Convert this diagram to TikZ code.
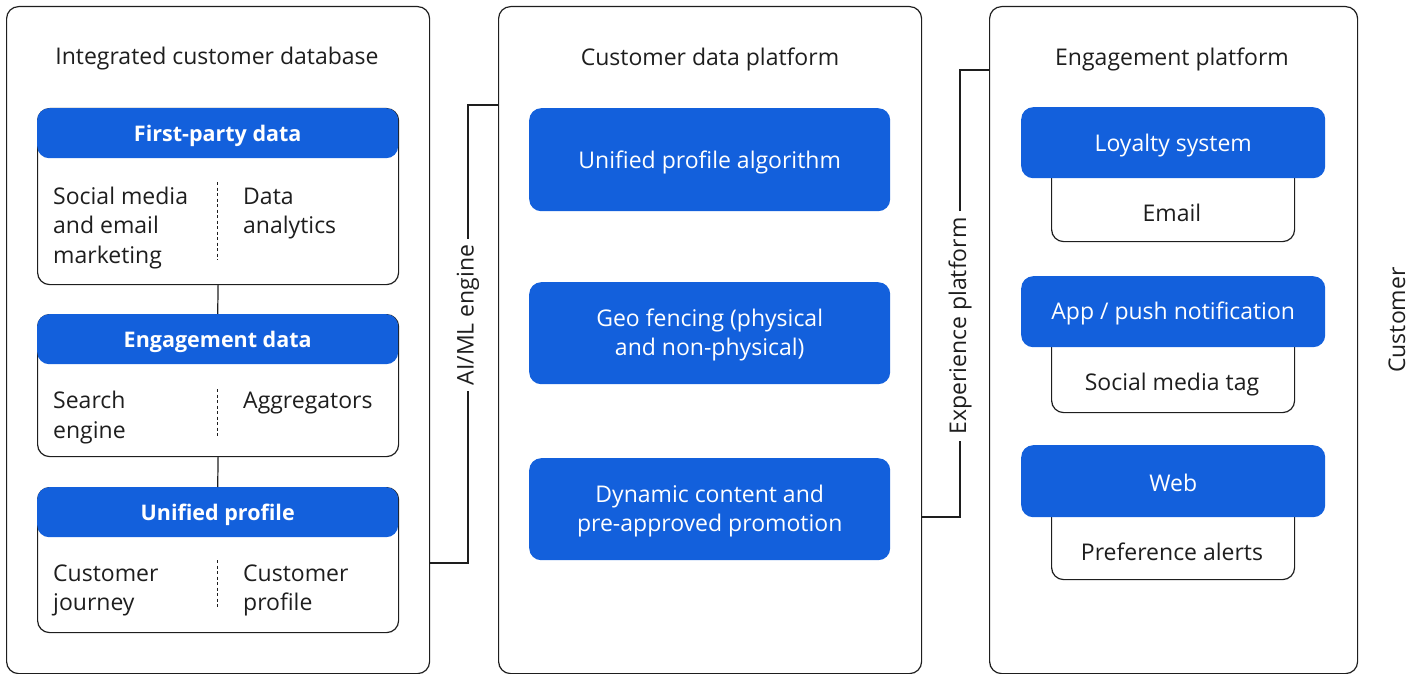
\documentclass[tikz,border=0pt]{standalone}
\usepackage{fontspec}
\setmainfont{Open Sans}
\definecolor{brand}{RGB}{19,96,220}
\definecolor{ink}{RGB}{30,30,30}
\begin{document}
\begin{tikzpicture}[x=1pt,y=-1pt,
  panel/.style={draw=ink,line width=1.2pt,rounded corners=12pt,anchor=north west,inner sep=0pt},
  cardbody/.style={draw=ink,line width=1.2pt,rounded corners=12pt,anchor=north west,inner sep=0pt},
  bluebox/.style={fill=brand,rounded corners=12pt,anchor=north west,inner sep=0pt},
  bluetext/.style={text=white,align=center,inner sep=0pt,font=\fontsize{23}{29.5}\selectfont},
  hdrtext/.style={text=white,inner sep=0pt,font=\fontsize{21.5}{25}\selectfont\bfseries},
  title/.style={font=\fontsize{23}{25}\selectfont,text=ink},
  body/.style={font=\fontsize{23}{29.5}\selectfont,text=ink,align=left,anchor=west,inner sep=0pt},
  sub/.style={font=\fontsize{23}{25}\selectfont,text=ink},
  divider/.style={draw=ink,line width=1pt,dash pattern=on 3pt off 2.5pt},
  link/.style={draw=ink,line width=1.2pt},
  vlabel/.style={font=\fontsize{23}{25}\selectfont,text=ink,rotate=90,inner sep=6pt}
]
\useasboundingbox (0,0) rectangle (1419,674);
% panels
\node[panel,minimum width=423pt,minimum height=667pt] (pL) at (6,6) {};
\node[panel,minimum width=423pt,minimum height=667pt] (pM) at (498,6) {};
\node[panel,minimum width=368pt,minimum height=667pt] (pR) at (989,6) {};
\node[title] (tL) at (217,59) {Integrated customer database};
\node[title] (tM) at (710,59) {Customer data platform};
\node[title] (tR) at (1172,59) {Engagement platform};

% left cards
\node[cardbody,minimum width=361pt,minimum height=176pt] (c1) at (37,108) {};
\node[bluebox,minimum width=361pt,minimum height=50pt] (h1) at (37,108) {};
\node[hdrtext] (h1t) at ([yshift=-3pt]h1.center) {First-party data};
\node[body] (b1a) at (53,228) {Social media\\and email\\marketing};
\node[body] (b1b) at (243,213.5) {Data\\analytics};
\draw[divider] (217,182) -- (217,260);

\node[cardbody,minimum width=361pt,minimum height=142pt] (c2) at (37,314) {};
\node[bluebox,minimum width=361pt,minimum height=50pt] (h2) at (37,314) {};
\node[hdrtext] (h2t) at ([yshift=-3pt]h2.center) {Engagement data};
\node[body] (b2a) at (53,417.5) {Search\\engine};
\node[body] (b2b) at (243,403) {Aggregators};
\draw[divider] (217,389) -- (217,437);

\node[cardbody,minimum width=361pt,minimum height=145pt] (c3) at (37,487) {};
\node[bluebox,minimum width=361pt,minimum height=50pt] (h3) at (37,487) {};
\node[hdrtext] (h3t) at ([yshift=-3pt]h3.center) {Unified profile};
\node[body] (b3a) at (53,590.5) {Customer\\journey};
\node[body] (b3b) at (243,590.5) {Customer\\profile};
\draw[divider] (217,560) -- (217,608);

\draw[link] (c1.south) -- (h2.north);
\draw[link] (c2.south) -- (h3.north);

% middle boxes
\node[bluebox,minimum width=361pt,minimum height=103pt] (m1) at (529,108) {};
\node[bluetext] (m1t) at ([yshift=-3pt]m1.center) {Unified profile algorithm};
\node[bluebox,minimum width=361pt,minimum height=102pt] (m2) at (529,282) {};
\node[bluetext] (m2t) at ([yshift=-2pt]m2.center) {Geo fencing (physical\\and non-physical)};
\node[bluebox,minimum width=361pt,minimum height=102pt] (m3) at (529,458) {};
\node[bluetext] (m3t) at ([yshift=-2pt]m3.center) {Dynamic content and\\pre-approved promotion};

% right boxes
\node[cardbody,minimum width=243pt,minimum height=83pt] (s1) at (1051,158) {};
\node[bluebox,minimum width=304pt,minimum height=71pt] (r1) at (1021,107) {};
\node[bluetext] (r1t) at ([yshift=-3pt]r1.center) {Loyalty system};
\node[sub] (e1) at (1172,213) {Email};
\node[cardbody,minimum width=243pt,minimum height=85pt] (s2) at (1051,327) {};
\node[bluebox,minimum width=304pt,minimum height=71pt] (r2) at (1021,276) {};
\node[bluetext] (r2t) at ([yshift=-2pt]r2.center) {App / push notification};
\node[sub] (e2) at (1172,385) {Social media tag};
\node[cardbody,minimum width=243pt,minimum height=82pt] (s3) at (1051,497) {};
\node[bluebox,minimum width=304pt,minimum height=72pt] (r3) at (1021,445) {};
\node[bluetext] (r3t) at ([yshift=-2pt]r3.center) {Web};
\node[sub] (e3) at (1172,552) {Preference alerts};

% side labels
\node[vlabel] (ai) at (468,315) {AI/ML engine};
\draw[link] (pL.east |- 0,563) -| (ai.west);
\draw[link] (ai.east) |- (pM.west |- 0,105);

\node[vlabel] (xp) at (960,326) {Experience platform};
\draw[link] (pM.east |- 0,517) -| (xp.west);
\draw[link] (xp.east) |- (pR.west |- 0,70);

\node[vlabel,inner sep=0pt] (cu) at (1397,320) {Customer};
\end{tikzpicture}
\end{document}
